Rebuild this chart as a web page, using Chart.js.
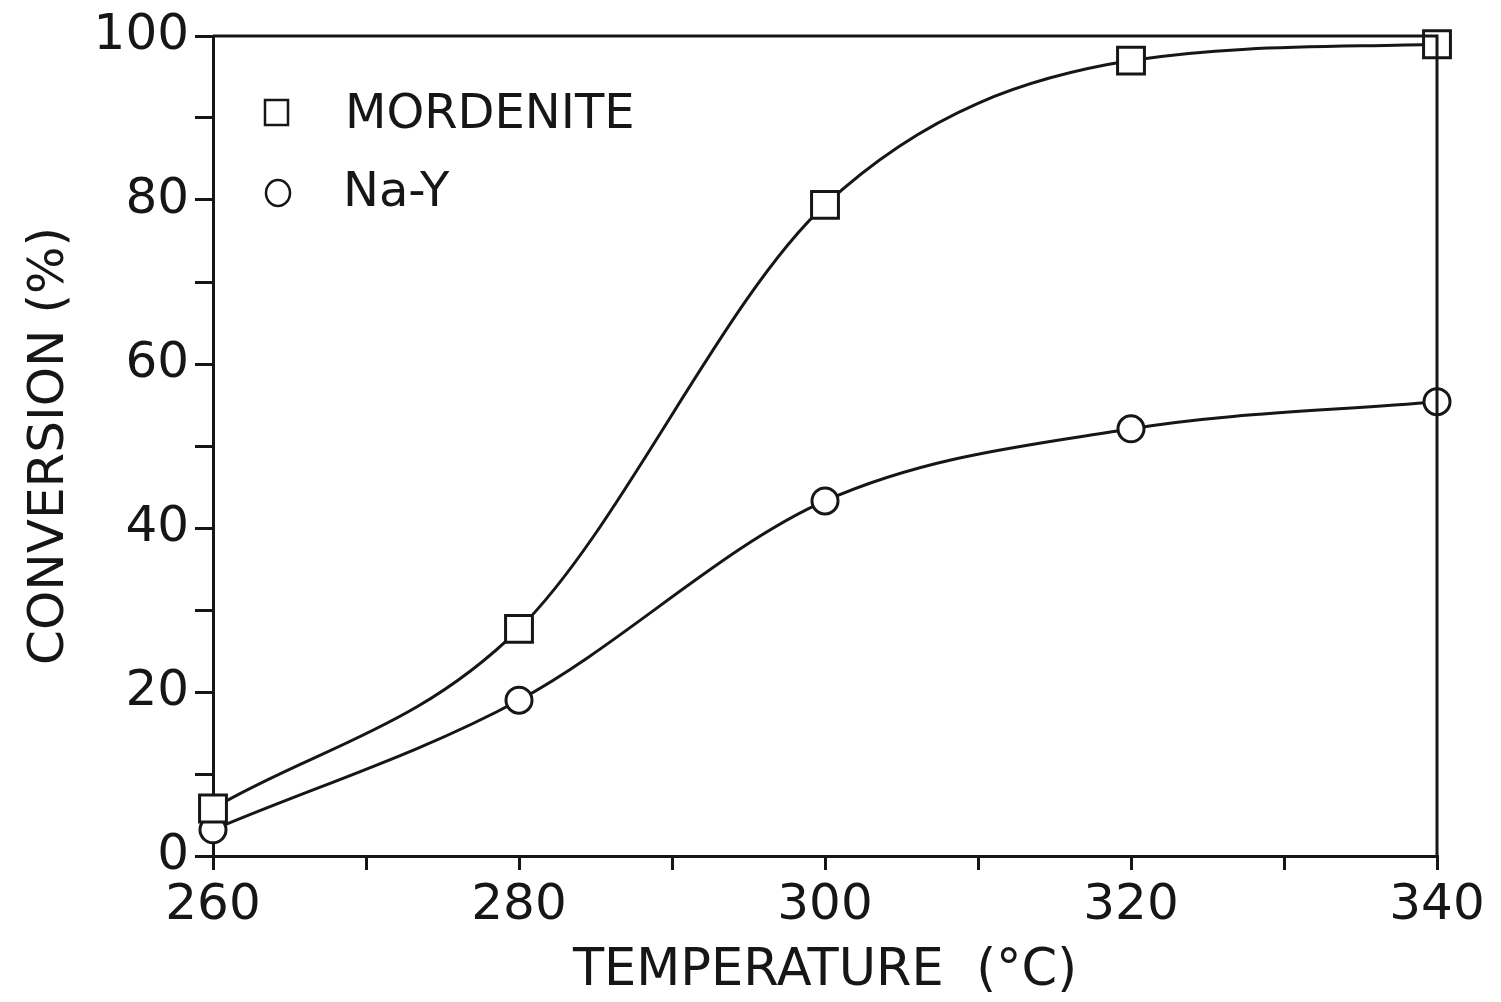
<!DOCTYPE html>
<html>

<head>
    <title>Conversion vs temperature</title>
    <meta charset="UTF-8">
    <script src="https://cdn.jsdelivr.net/npm/chart.js@4.4.1/dist/chart.umd.min.js"></script>
    <style>
        html, body { margin: 0; padding: 0; background: #fff; }
        #wrap { width: 1501px; height: 1002px; }
    </style>
</head>

<body>
    <div id="wrap"><canvas id="convChart" width="1501" height="1002"></canvas></div>
    <script>
        const temperatures = [260, 280, 300, 320, 340];
        const mordenite = [5.8, 27.7, 79.4, 97.0, 99.0];
        const naY = [3.2, 19.0, 43.3, 52.1, 55.4];
        const xLabels = [260, 280, 300, 320, 340];
        const yLabels = [0, 20, 40, 60, 80, 100];

        const ink = '#161616';
        Chart.defaults.font.family = "'DejaVu Sans', sans-serif";
        Chart.defaults.color = ink;

        const toPoints = (ys) => temperatures.map((t, i) => ({ x: t, y: ys[i] }));

        // box around the plot plus the legend inside the upper left corner
        const framePlugin = {
            id: 'frame',
            afterDraw(chart) {
                const { ctx, chartArea: a } = chart;
                ctx.save();
                ctx.strokeStyle = ink;
                ctx.lineWidth = 3;
                ctx.beginPath();
                ctx.moveTo(a.left, a.top);
                ctx.lineTo(a.right, a.top);
                ctx.lineTo(a.right, a.bottom);
                ctx.stroke();

                ctx.lineWidth = 2.5;
                ctx.fillStyle = ink;
                ctx.font = "48px 'DejaVu Sans', sans-serif";
                ctx.textBaseline = 'middle';
                ctx.strokeRect(265, 100, 23, 25);
                ctx.fillText('MORDENITE', 345, 116);
                ctx.beginPath();
                ctx.ellipse(278, 193, 12, 13, 0, 0, Math.PI * 2);
                ctx.stroke();
                ctx.fillText('Na-Y', 343, 194);
                ctx.restore();
            }
        };

        new Chart(document.getElementById('convChart'), {
            type: 'line',
            data: {
                datasets: [
                    {
                        label: 'MORDENITE',
                        data: toPoints(mordenite),
                        borderColor: ink,
                        borderWidth: 3,
                        pointStyle: 'rect',
                        pointRadius: 19,
                        pointBorderWidth: 3,
                        pointBackgroundColor: '#fff',
                        pointBorderColor: ink,
                        cubicInterpolationMode: 'monotone',
                        clip: false
                    },
                    {
                        label: 'Na-Y',
                        data: toPoints(naY),
                        borderColor: ink,
                        borderWidth: 3,
                        pointStyle: 'circle',
                        pointRadius: 13,
                        pointBorderWidth: 3,
                        pointBackgroundColor: '#fff',
                        pointBorderColor: ink,
                        cubicInterpolationMode: 'monotone',
                        clip: false
                    }
                ]
            },
            options: {
                responsive: false,
                animation: false,
                layout: { padding: { top: 34, right: 64, left: 0, bottom: 0 } },
                plugins: { legend: { display: false }, tooltip: { enabled: false } },
                scales: {
                    x: {
                        type: 'linear',
                        min: 260,
                        max: 340,
                        border: { color: ink, width: 3 },
                        grid: { drawOnChartArea: false, drawTicks: true, tickLength: 14, color: ink, lineWidth: 3 },
                        ticks: {
                            stepSize: 10,
                            padding: 6,
                            font: { size: 50 },
                            color: ink,
                            callback: (v) => xLabels.includes(v) ? String(v) : ''
                        },
                        title: {
                            display: true,
                            text: 'TEMPERATURE  (°C)',
                            font: { size: 51 },
                            color: ink,
                            padding: { top: 2, bottom: 0 }
                        },
                        afterFit(scale) { scale.height = 146; }
                    },
                    y: {
                        min: 0,
                        max: 100,
                        border: { color: ink, width: 3 },
                        grid: { drawOnChartArea: false, drawTicks: true, tickLength: 18, color: ink, lineWidth: 3 },
                        ticks: {
                            stepSize: 10,
                            padding: 6,
                            font: { size: 50 },
                            color: ink,
                            callback: (v) => yLabels.includes(v) ? String(v) : ''
                        },
                        title: {
                            display: true,
                            text: 'CONVERSION (%)',
                            font: { size: 50 },
                            color: ink,
                            padding: { top: 20, bottom: 4 }
                        },
                        afterFit(scale) { scale.width = 213; }
                    }
                }
            },
            plugins: [framePlugin]
        });
    </script>
</body>

</html>
